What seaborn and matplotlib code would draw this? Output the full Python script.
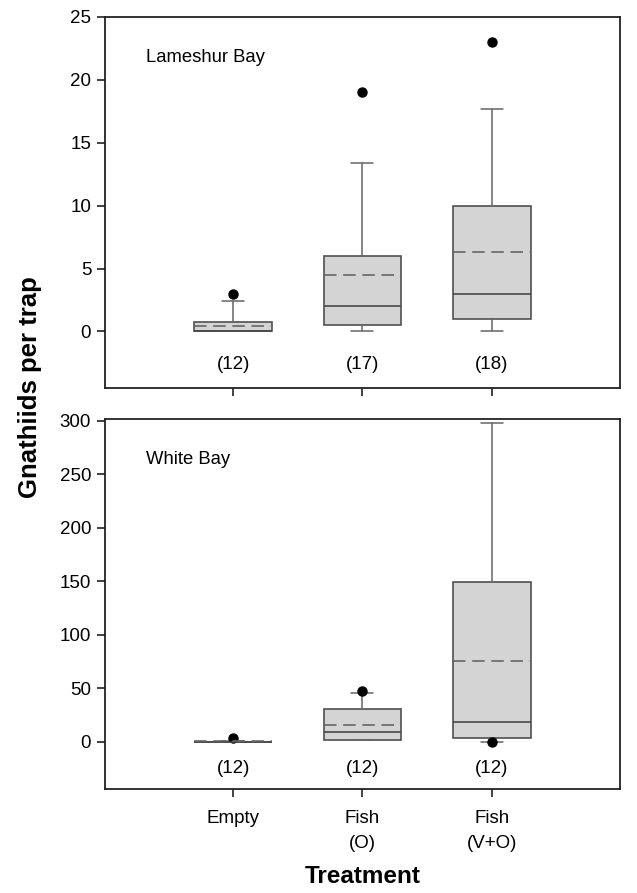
import matplotlib
matplotlib.use("Agg")
import matplotlib.pyplot as plt
import seaborn as sns

# Treatments (x categories)
treatments = ["Empty", "Fish\n(O)", "Fish\n(V+O)"]

# Lameshur Bay summary values
lam_q1 = [0.0, 0.5, 1.0]
lam_med = [0.0, 2.0, 3.0]
lam_q3 = [0.75, 6.0, 10.0]
lam_mean = [0.4, 4.5, 6.35]
lam_whislo = [0.0, 0.0, 0.0]
lam_whishi = [2.4, 13.4, 17.7]
lam_fliers = [[3.0], [19.0], [23.0]]
lam_n = [12, 17, 18]

# White Bay summary values
wb_q1 = [0.0, 2.0, 3.4]
wb_med = [0.0, 9.6, 19.0]
wb_q3 = [0.0, 30.5, 149.0]
wb_mean = [0.5, 16.2, 75.5]
wb_whislo = [0.0, 2.0, 0.2]
wb_whishi = [1.0, 45.5, 298.0]
wb_fliers = [[4.0], [47.7], [0.0]]
wb_n = [12, 12, 12]

sns.set_style("ticks")
plt.rcParams["font.family"] = ["Liberation Sans", "DejaVu Sans"]
plt.rcParams["text.color"] = "black"
plt.rcParams["axes.labelcolor"] = "black"


def make_stats(q1, med, q3, mean, lo, hi, fliers):
    stats = []
    for i in range(len(q1)):
        stats.append(dict(q1=q1[i], med=med[i], q3=q3[i], mean=mean[i],
                          whislo=lo[i], whishi=hi[i], fliers=fliers[i]))
    return stats


def draw_panel(ax, stats, n, n_y, title, ylim, yticks):
    ax.bxp(stats, positions=range(len(stats)), widths=0.6, patch_artist=True,
           showmeans=True, meanline=True,
           boxprops=dict(facecolor="#d4d4d4", edgecolor="#505050", linewidth=1.2),
           medianprops=dict(color="#484848", linewidth=1.2),
           meanprops=dict(color="#666666", linestyle=(0, (7.5, 4)), linewidth=1.2),
           whiskerprops=dict(color="#666666", linewidth=1.1),
           capprops=dict(color="#666666", linewidth=1.1),
           capwidths=0.17,
           flierprops=dict(marker="o", markerfacecolor="black",
                           markeredgecolor="black", markersize=6.5))
    for i, v in enumerate(n):
        ax.text(i, n_y, f"({v})", ha="center", va="center", fontsize=13.5)
    ax.text(0.079, 0.89, title, transform=ax.transAxes, ha="left", va="center",
            fontsize=13.3)
    ax.set_xlim(-0.99, 2.99)
    ax.set_ylim(*ylim)
    ax.set_yticks(yticks)
    for s in ax.spines.values():
        s.set_visible(True)
        s.set_color("#222222")
        s.set_linewidth(1.3)
    ax.tick_params(direction="out", length=6, width=1.2, pad=4, labelsize=13.5,
                   colors="#222222", labelcolor="black")


fig = plt.figure(figsize=(6.37, 8.93), dpi=100)
ax1 = fig.add_axes([0.165, 0.5655, 0.808, 0.4155])
ax2 = fig.add_axes([0.165, 0.1165, 0.808, 0.4145])

draw_panel(ax1, make_stats(lam_q1, lam_med, lam_q3, lam_mean, lam_whislo, lam_whishi, lam_fliers),
           lam_n, -2.6, "Lameshur Bay", (-4.5, 25), [0, 5, 10, 15, 20, 25])
draw_panel(ax2, make_stats(wb_q1, wb_med, wb_q3, wb_mean, wb_whislo, wb_whishi, wb_fliers),
           wb_n, -25, "White Bay", (-44, 302), [0, 50, 100, 150, 200, 250, 300])

ax1.set_xticks(range(len(treatments)))
ax1.set_xticklabels([])
ax2.set_xticks(range(len(treatments)))
ax2.set_xticklabels(treatments, fontsize=13.5, linespacing=1.65, va="top")
ax2.tick_params(axis="x", pad=9)
ax2.set_xlabel("Treatment", fontsize=17.5, fontweight="bold", labelpad=9, color="black")

fig.text(0.047, 0.567, "Gnathiids per trap", rotation=90, ha="center", va="center",
         fontsize=18.5, fontweight="bold", color="black")

fig.savefig("out.png", dpi=100)
